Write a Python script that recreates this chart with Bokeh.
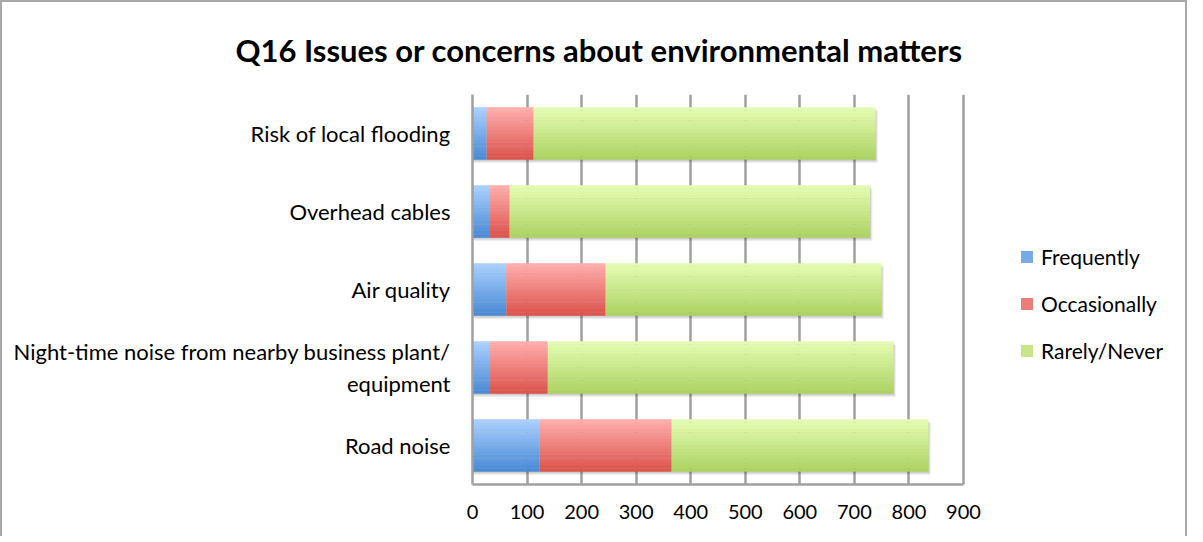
import numpy as np
from bokeh.plotting import figure
from bokeh.models import Range1d, FactorRange, Legend, LegendItem, ColumnDataSource, FixedTicker
from bokeh.transform import dodge
from bokeh.embed import file_html
from bokeh.resources import INLINE

# ---------------- data ----------------
categories = [
    "Road noise",
    "Night-time noise from nearby business plant/\nequipment",
    "Air quality",
    "Overhead cables",
    "Risk of local flooding",
]
frequently = [123, 32, 62, 32, 26]
occasionally = [242, 106, 182, 36, 86]
rarely = [471, 634, 506, 661, 627]
series_names = ["Frequently", "Occasionally", "Rarely/Never"]
x_ticks = [0, 100, 200, 300, 400, 500, 600, 700, 800, 900]
title_text = "Q16 Issues or concerns about environmental matters"

# gradient colours (top, bottom) for each series
grad = [((0xA9, 0xCF, 0xFD), (0x4B, 0x8B, 0xD6)),
        ((0xFF, 0xAD, 0xAB), (0xDC, 0x55, 0x4E)),
        ((0xE4, 0xFC, 0xB2), (0xAE, 0xD3, 0x63))]

FONT = "Lato"

# layout: axis area is 491 px wide for 0..900, frame extended to the right to hold legend
AXIS_PX = 491
FRAME_W = 700
x_end = x_ticks[-1] * FRAME_W / AXIS_PX

p = figure(frame_width=FRAME_W, frame_height=390, output_backend="svg", toolbar_location=None,
           y_range=FactorRange(*categories, range_padding=0),
           x_range=Range1d(0, x_end),
           min_border_left=470, min_border_right=13, min_border_top=92, min_border_bottom=52)
p.styles = {"border-top": "2px solid #a8a8a8", "border-left": "2px solid #a8a8a8",
            "border-right": "2px solid #a8a8a8"}

p.title.text = title_text
p.title.text_font = FONT
p.title.text_font_style = "bold"
p.title.text_font_size = "31px"
p.title.align = "left"
p.title.vertical_align = "top"
p.title.offset = -237
p.title.standoff = 47
p.title.text_color = "#000000"

p.outline_line_color = None
p.ygrid.grid_line_color = None
p.xgrid.grid_line_color = "#a0a0a0"
p.xgrid.grid_line_width = 2.5
p.xgrid.ticker = FixedTicker(ticks=x_ticks)

p.xaxis.ticker = FixedTicker(ticks=x_ticks)
p.xaxis.bounds = (x_ticks[0], x_ticks[-1])
p.xaxis.axis_line_color = "#a0a0a0"
p.xaxis.axis_line_width = 2.5
p.xaxis.major_tick_line_color = None
p.xaxis.minor_tick_line_color = None
p.xaxis.major_label_text_font = FONT
p.xaxis.major_label_text_font_size = "20px"
p.xaxis.major_label_text_color = "#000000"
p.xaxis.major_label_standoff = 14

p.yaxis.axis_line_color = "#a0a0a0"
p.yaxis.axis_line_width = 2.5
p.yaxis.major_tick_line_color = None
p.yaxis.minor_tick_line_color = None
p.yaxis.major_label_text_font = FONT
p.yaxis.major_label_text_font_size = "22px"
p.yaxis.major_label_text_color = "#000000"
p.yaxis.major_label_standoff = 16

lefts, rights = [], []
cum = np.zeros(len(categories))
for vals in (frequently, occasionally, rarely):
    lefts.append(cum.copy())
    cum = cum + np.array(vals)
    rights.append(cum.copy())

bar_h = 0.667
# soft shadow
for k, (dy, extra, a) in enumerate([(-0.045, 4, 0.07), (-0.03, 2, 0.08), (-0.015, 1, 0.08)]):
    src = ColumnDataSource(dict(cat=categories, l=[0] * len(categories), r=list(cum + extra)))
    p.hbar(y=dodge("cat", dy, range=p.y_range), left="l", right="r", height=bar_h,
           source=src, fill_color="#000000", fill_alpha=a, line_color=None)

N = 16
sh = bar_h / N
legend_items = []
for s in range(3):
    src = ColumnDataSource(dict(cat=categories, l=list(lefts[s]), r=list(rights[s])))
    top, bot = grad[s]
    mid_r = None
    for i in range(N):
        t = i / (N - 1)
        col = "#%02x%02x%02x" % tuple(int(round(top[c] + (bot[c] - top[c]) * t)) for c in range(3))
        off = bar_h / 2 - (i + 0.5) * sh
        r = p.hbar(y=dodge("cat", off, range=p.y_range), left="l", right="r",
                   height=sh * 1.08, source=src, fill_color=col, line_color=None)
        if i == N // 2:
            mid_r = r
    legend_items.append(LegendItem(label=series_names[s], renderers=[mid_r]))

legend = Legend(items=legend_items, location=(547, 121), orientation="vertical",
                border_line_color=None, background_fill_alpha=0,
                label_text_font=FONT, label_text_font_size="21px", label_text_color="#000000",
                glyph_width=15, glyph_height=15, label_height=22, spacing=22,
                padding=10, margin=0, label_standoff=7)
p.add_layout(legend)

open("out.html", "w").write(file_html(p, INLINE))
